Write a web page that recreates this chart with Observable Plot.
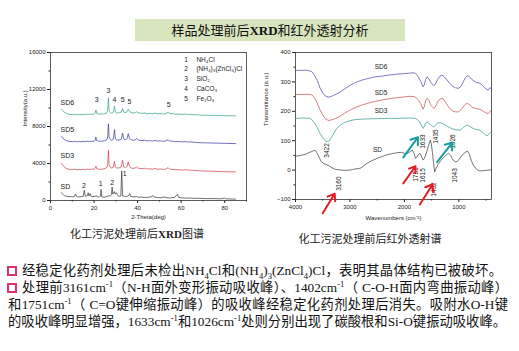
<!DOCTYPE html>
<html><head><meta charset="utf-8">
<script src="https://cdn.jsdelivr.net/npm/d3@7"></script>
<script src="https://cdn.jsdelivr.net/npm/@observablehq/plot@0.6"></script>
<style>
body{margin:0;background:#fff;font-family:"Noto Sans CJK SC",sans-serif;}
#wrap{position:relative;width:519px;height:351px;overflow:hidden;background:#fff;}
#title{position:absolute;left:135px;top:19px;width:270px;height:22px;background:#d8e4bc;text-align:center;line-height:22px;font-size:13px;color:#111;}
#title b{font-family:"Liberation Serif",serif;font-weight:bold;}
.cap{position:absolute;font-size:11px;color:#222;text-align:center;line-height:14px;}
.cap b{font-family:"Liberation Serif",serif;}
.ln{position:absolute;height:17px;line-height:17px;font-size:13.3px;font-family:"Liberation Serif","Noto Sans CJK SC",serif;text-align:justify;text-align-last:justify;color:#111;}
.ln sub,.ln sup{font-size:0.65em;line-height:0;}
.bx{position:absolute;width:6px;height:6px;border:2px solid #e0306e;}
svg{overflow:visible}
</style></head><body>
<div id="wrap">
  <div id="title">样品处理前后<b>XRD</b>和红外透射分析</div>
  <div id="xrd" style="position:absolute;left:0;top:40px"></div>
  <div id="ir" style="position:absolute;left:260px;top:40px"></div>
  <div class="cap" style="left:37px;top:226px;width:200px">化工污泥处理前后<b>XRD</b>图谱</div>
  <div class="cap" style="left:270px;top:231px;width:200px">化工污泥处理前后红外透射谱</div>
  <div class="bx" style="left:7px;top:266px"></div>
  <div class="bx" style="left:7px;top:283px"></div>
  <div class="ln" style="left:22px;top:262px;width:480px">经稳定化药剂处理后未检出NH<sub>4</sub>Cl和(NH<sub>4</sub>)<sub>3</sub>(ZnCl<sub>4</sub>)Cl，表明其晶体结构已被破坏。</div>
  <div class="ln" style="left:22px;top:279px;width:486px">处理前3161cm<sup>-1</sup>（N-H面外变形振动吸收峰）、1402cm<sup>-1</sup>（ C-O-H面内弯曲振动峰）</div>
  <div class="ln" style="left:8px;top:296px;width:500px">和1751cm<sup>-1</sup>（ C=O键伸缩振动峰）的吸收峰经稳定化药剂处理后消失。吸附水O-H键</div>
  <div class="ln" style="left:8px;top:313px;width:498px">的吸收峰明显增强，1633cm<sup>-1</sup>和1026cm<sup>-1</sup>处则分别出现了碳酸根和Si-O键振动吸收峰。</div>
</div>
<script>
// ---------- XRD data (2-Theta deg, intensity a.u.) ----------
const xrdNames = ["SD6", "SD5", "SD3", "SD"];
const xrdColors = ["#2e9e8a", "#3535a8", "#cc3a48", "#333333"];
const xrdSD6 = [[5,9850],[5.5,9750],[6,9600],[7,9450],[8,9350],[9,9300],[10,9280],[11,9320],[12,9260],[13,9300],[14,9270],[15,9310],[16,9280],[17,9330],[18,9300],[19,9340],[20,9330],[20.5,9450],[20.85,9780],[21.2,9420],[22,9350],[23,9330],[24,9360],[25,9400],[26,9500],[26.3,9900],[26.6,11100],[26.9,9700],[27.5,9500],[28,9450],[28.8,9500],[29.4,10200],[29.8,9550],[30.5,9450],[31.5,9480],[32.5,9550],[33.1,9950],[33.6,9550],[34.5,9500],[35.2,9600],[35.7,9850],[36.2,9650],[37,9500],[38,9450],[39,9520],[39.5,9600],[40.2,9480],[41,9450],[42.5,9420],[43,9480],[44,9400],[45.5,9420],[47,9380],[48,9450],[49,9380],[50.5,9400],[52,9360],[53,9400],[54,9560],[54.6,9400],[56,9380],[57.5,9320],[59,9350],[60.5,9300],[62,9350],[63,9300],[64.5,9320],[66,9270],[68,9250],[70,9220],[72,9220],[75,9200],[78,9180],[81,9170],[85,9150]];
const xrdSD5 = [[5,6900],[5.5,6800],[6,6650],[7,6500],[8,6420],[9,6380],[10,6360],[11,6400],[12,6340],[13,6380],[14,6350],[15,6390],[16,6360],[17,6420],[18,6380],[19,6400],[20,6400],[20.5,6520],[20.85,6860],[21.2,6480],[22,6420],[23,6400],[24,6430],[25,6470],[26,6600],[26.3,7000],[26.6,8300],[26.9,6850],[27.5,6580],[28,6520],[28.8,6600],[29.4,7660],[29.8,6650],[30.5,6520],[31.5,6550],[32.5,6620],[33.1,7300],[33.6,6650],[34.5,6580],[35.2,6700],[35.7,7230],[36.2,6750],[37,6560],[38,6500],[39,6580],[39.5,6700],[40.2,6540],[41,6500],[42.5,6470],[43,6540],[44,6450],[45.5,6470],[47,6430],[48,6500],[49,6420],[50.5,6440],[52,6400],[53,6440],[54,6580],[54.6,6430],[56,6410],[57.5,6350],[59,6380],[60.5,6330],[62,6370],[63,6320],[64.5,6340],[66,6290],[68,6260],[70,6230],[72,6230],[75,6210],[78,6190],[81,6170],[85,6150]];
const xrdSD3 = [[5,4000],[5.5,3850],[6,3700],[7,3500],[8,3400],[9,3360],[10,3340],[11,3380],[12,3320],[13,3350],[14,3330],[15,3370],[16,3340],[17,3400],[18,3360],[19,3390],[20,3380],[20.5,3480],[20.85,3700],[21.2,3450],[22,3390],[23,3370],[24,3400],[25,3450],[26,3600],[26.3,4000],[26.6,5430],[26.9,3900],[27.5,3600],[28,3520],[28.8,3580],[29.4,4240],[29.8,3600],[30.5,3500],[31.5,3530],[32.5,3620],[33.1,4350],[33.6,3640],[34.5,3560],[35.2,3700],[35.7,4170],[36.2,3720],[37,3520],[38,3460],[39,3540],[39.5,3650],[40.2,3500],[41,3460],[42.5,3430],[43,3500],[44,3410],[45.5,3430],[47,3390],[48,3460],[49,3380],[50.5,3400],[52,3360],[53,3400],[54,3550],[54.6,3390],[56,3370],[57.5,3310],[59,3340],[60.5,3290],[62,3330],[63,3280],[64.5,3300],[66,3250],[68,3220],[70,3190],[72,3180],[75,3160],[78,3130],[81,3110],[85,3090]];
const xrdSD = [[5,850],[5.5,700],[6,600],[6.5,520],[7,480],[8,430],[9,420],[10,400],[11,450],[11.5,700],[12,420],[13,380],[14,420],[15,450],[15.5,1100],[16,450],[17,550],[17.3,850],[17.7,500],[18.2,750],[18.6,450],[19.5,400],[20.5,450],[21,550],[21.5,400],[22.5,380],[23,500],[23.2,1200],[23.5,400],[24.5,350],[25.5,400],[26.5,480],[27.5,500],[28,650],[28.3,1450],[28.6,700],[29.3,950],[29.7,700],[30.3,850],[30.8,550],[31.5,450],[32.3,500],[32.7,3200],[33.1,500],[34,450],[35,420],[36,550],[36.4,750],[36.8,450],[38,380],[39.5,420],[40.5,350],[42,380],[43,330],[45,350],[46.5,420],[47,550],[47.5,380],[49,320],[51,300],[52.5,400],[53,300],[55,280],[57,330],[58.3,700],[58.8,350],[60,300],[62,250],[64,270],[66,230],[68,240],[70,220],[72,200],[75,210],[78,180],[80,260],[80.5,180],[83,160],[85,150]];
const xrdXTicks = [0, 20, 40, 60, 80];
const xrdYTicks = [0, 4000, 8000, 12000, 16000];
// series labels [2theta, intensity]
const xrdLabelPos = [[4.6,10600],[4.6,7700],[4.6,4880],[4.6,1440]];
// peak index labels
const xrdPeakText = ["3","3","4","5","5","5","2","1","2","1"];
const xrdPeakPos = [[21.2,10900],[26.6,11900],[29.4,10900],[33.2,10900],[36.3,10680],[54.3,10360],[15.4,1620],[23.1,1760],[28.3,1940],[34.1,2910]];
// legend
const xrdLegendNum = ["1","2","3","4","5"];
const xrdLegendText = ["NH₄Cl","(NH₄)₃(ZnCl₄)Cl","SiO₂","CaCO₃","Fe₂O₃"];
const xrdLegendY = [15245, 14200, 13150, 12050, 11000];

// ---------- IR data (wavenumber cm-1, transmittance a.u.) ----------
const irNames = ["SD6", "SD5", "SD3", "SD"];
const irColors = ["#4242aa", "#c44a4a", "#2a9a8a", "#3a3a3a"];
const irSD6 = [[4000,340],[3900,339],[3800,340],[3750,338],[3700,335],[3650,322],[3600,305],[3550,280],[3500,262],[3450,252],[3400,248],[3350,250],[3300,254],[3200,263],[3100,276],[3000,288],[2900,298],[2800,305],[2700,310],[2600,315],[2500,318],[2400,320],[2300,323],[2200,325],[2100,327],[2000,328],[1900,330],[1820,331],[1780,326],[1740,316],[1700,302],[1675,290],[1656,283],[1635,290],[1610,308],[1584,317],[1550,310],[1510,297],[1463,287],[1430,292],[1390,308],[1350,319],[1311,323],[1270,318],[1220,307],[1170,295],[1110,285],[1060,280],[1007,278],[960,285],[920,300],[880,315],[843,321],[810,318],[770,310],[700,300],[612,295],[550,285],[500,276],[461,272],[430,280],[400,278]];
const irSD5 = [[4000,258],[3900,257],[3800,258],[3700,256],[3650,245],[3600,228],[3550,205],[3500,187],[3450,175],[3400,169],[3350,170],[3300,173],[3200,181],[3100,193],[3000,204],[2900,213],[2800,220],[2700,226],[2600,231],[2500,235],[2400,239],[2300,242],[2200,245],[2100,247],[2000,249],[1900,251],[1820,250],[1780,246],[1740,237],[1700,226],[1675,215],[1656,207],[1635,215],[1610,236],[1584,244],[1550,238],[1510,220],[1463,210],[1430,215],[1390,232],[1350,241],[1311,244],[1270,238],[1220,224],[1170,210],[1110,201],[1060,198],[1007,198],[960,205],[920,215],[880,224],[843,227],[800,222],[760,214],[700,210],[612,207],[550,200],[500,194],[461,193],[430,198],[400,205]];
const irSD3 = [[4000,176],[3900,176],[3850,178],[3800,176],[3750,177],[3700,172],[3650,160],[3600,145],[3550,125],[3500,110],[3450,99],[3420,96],[3380,99],[3350,108],[3300,124],[3250,140],[3200,150],[3100,162],[3000,168],[2900,172],[2800,173],[2700,174],[2500,175],[2300,176],[2100,176],[2000,177],[1900,177],[1800,176],[1760,172],[1720,164],[1690,154],[1670,146],[1656,142],[1635,148],[1610,160],[1584,164],[1550,160],[1510,152],[1463,147],[1430,152],[1400,159],[1372,162],[1320,160],[1260,155],[1200,148],[1130,141],[1060,137],[976,136],[930,142],[880,150],[843,153],[800,149],[740,142],[680,138],[612,136],[560,128],[510,120],[479,117],[450,122],[420,128],[400,127]];
const irSD = [[4000,47],[3900,50],[3800,55],[3750,60],[3700,63],[3670,66],[3640,68],[3610,60],[3570,45],[3530,30],[3480,22],[3420,18],[3380,14],[3330,8],[3280,3],[3200,1],[3100,-1],[3000,0],[2950,2],[2900,4],[2850,5],[2800,7],[2750,14],[2700,21],[2600,32],[2500,40],[2400,47],[2300,53],[2200,57],[2100,60],[2050,60],[2000,57],[1950,56],[1900,62],[1857,68],[1830,60],[1796,40],[1770,45],[1740,54],[1717,57],[1690,48],[1656,34],[1630,40],[1590,62],[1555,85],[1523,102],[1505,88],[1485,60],[1465,25],[1444,-6],[1420,5],[1380,20],[1330,33],[1280,42],[1230,52],[1189,57],[1150,50],[1110,35],[1068,28],[1030,29],[990,38],[950,48],[900,58],[843,65],[810,55],[770,32],[734,17],[690,6],[650,0],[612,-3],[560,-2],[500,-1],[450,0],[400,1]];
const irXTicks = [4000, 3000, 2000, 1000];
const irYTicks = [-100, 0, 100, 200, 300, 400];
const irLabelPos = [[2430,352],[2430,263],[2430,200],[2493,69]];
// band labels (vertical)
const irBandText = ["3422","3160","1633","1435","1026","1751","1615","1402","1043"];
const irBandPos = [[3432,67],[3194,-46],[1656,97],[1418,114],[1106,97],[1784,-15],[1656,-18],[1454,-66],[1070,-18]];
// arrows [x1,y1,x2,y2,kind]
const irArrowsRed = [[3500,-147,3280,-80],[2020,-45,1795,13],[1716,-117,1480,-48]];
const irArrowsTeal = [[2020,43,1750,112],[1400,27,1117,94]];

// ---------- build ----------
const rows = (names, series) => names.flatMap((n, i) => series[i].map(([x, y]) => ({name: n, x, y})));
const font = "'Liberation Sans', Arial, sans-serif";

const xrdRows = rows(xrdNames, [xrdSD6, xrdSD5, xrdSD3, xrdSD]);
const xrd = Plot.plot({
  width: 260, height: 190,
  marginLeft: 50, marginRight: 14, marginTop: 12, marginBottom: 30,
  style: {fontFamily: font, fontSize: "6px", background: "transparent", color: "#222", overflow: "visible"},
  x: {domain: [0, 90]},
  y: {domain: [0, 16000]},
  color: {domain: xrdNames, range: xrdColors},
  marks: [
    Plot.axisX({ticks: xrdXTicks, tickSize: 3, tickPadding: 2, label: null, fontSize: 6}),
    Plot.axisX({ticks: [10, 30, 50, 70, 90], tickSize: 1.5, text: null, label: null}),
    Plot.axisY({ticks: xrdYTicks, tickSize: 3, tickPadding: 2, tickFormat: d3.format("d"), label: null, fontSize: 6}),
    Plot.axisY({ticks: [2000, 6000, 10000, 14000], tickSize: 1.5, text: null, label: null}),
    Plot.frame({stroke: "#333", strokeWidth: 0.8}),
    Plot.line(xrdRows, {x: "x", y: "y", z: "name", stroke: "name", strokeWidth: 0.7}),
    Plot.text(xrdNames, {x: (d, i) => xrdLabelPos[i][0], y: (d, i) => xrdLabelPos[i][1], text: d => d, textAnchor: "start", fontSize: 7, fill: "#222"}),
    Plot.text(xrdPeakText, {x: (d, i) => xrdPeakPos[i][0], y: (d, i) => xrdPeakPos[i][1], text: d => d, fontSize: 7, fill: "#222"}),
    Plot.text(xrdLegendNum, {x: 62.3, y: (d, i) => xrdLegendY[i], text: d => d, fontSize: 6.5, fill: "#222"}),
    Plot.text(xrdLegendText, {x: 67, y: (d, i) => xrdLegendY[i], text: d => d, textAnchor: "start", fontSize: 6.5, fill: "#222"}),
    Plot.text(["2-Theta(deg)"], {frameAnchor: "bottom", dy: 18, text: d => d, fontSize: 6, fill: "#222"}),
    Plot.text(["Intensity(a.u.)"], {frameAnchor: "left", dx: -25, rotate: -90, text: d => d, fontSize: 6, fill: "#222"})
  ]
});
document.getElementById("xrd").append(xrd);

const irRows = rows(irNames, [irSD6, irSD5, irSD3, irSD]);
const arrowRows = [...irArrowsRed.map(a => ({a, c: "red"})), ...irArrowsTeal.map(a => ({a, c: "teal"}))];
const ir = Plot.plot({
  width: 259, height: 190,
  marginLeft: 35, marginRight: 28, marginTop: 12, marginBottom: 31,
  style: {fontFamily: font, fontSize: "6px", background: "transparent", color: "#222", overflow: "visible"},
  x: {domain: [4000, 400]},
  y: {domain: [-100, 400]},
  color: {domain: irNames, range: irColors},
  marks: [
    Plot.axisX({ticks: irXTicks, tickSize: 3, tickPadding: 2, tickFormat: d3.format("d"), label: null, fontSize: 6}),
    Plot.axisX({ticks: [3500, 2500, 1500, 500], tickSize: 1.5, text: null, label: null}),
    Plot.axisY({ticks: irYTicks, tickSize: 3, tickPadding: 2, label: null, fontSize: 6}),
    Plot.axisY({ticks: [-50, 50, 150, 250, 350], tickSize: 1.5, text: null, label: null}),
    Plot.frame({stroke: "#333", strokeWidth: 0.8}),
    Plot.line(irRows, {x: "x", y: "y", z: "name", stroke: "name", strokeWidth: 0.7}),
    Plot.text(irNames, {x: (d, i) => irLabelPos[i][0], y: (d, i) => irLabelPos[i][1], text: d => d, fontSize: 6.5, fill: "#222"}),
    Plot.text(irBandText, {x: (d, i) => irBandPos[i][0], y: (d, i) => irBandPos[i][1], text: d => d, rotate: -90, fontSize: 6.5, fill: "#222"}),
    Plot.arrow(arrowRows, {x1: d => d.a[0], y1: d => d.a[1], x2: d => d.a[2], y2: d => d.a[3], stroke: d => d.c === "red" ? "#e41e26" : "#14a0a0", strokeWidth: 2, headLength: 6, headAngle: 70}),
    Plot.text(["Wavenumbers (cm⁻¹)"], {frameAnchor: "bottom", dy: 20, text: d => d, fontSize: 6, fill: "#222"}),
    Plot.text(["Transmittance (a.u.)"], {frameAnchor: "left", dx: -29, rotate: -90, text: d => d, fontSize: 6, fill: "#222"})
  ]
});
document.getElementById("ir").append(ir);
</script>
</body></html>
